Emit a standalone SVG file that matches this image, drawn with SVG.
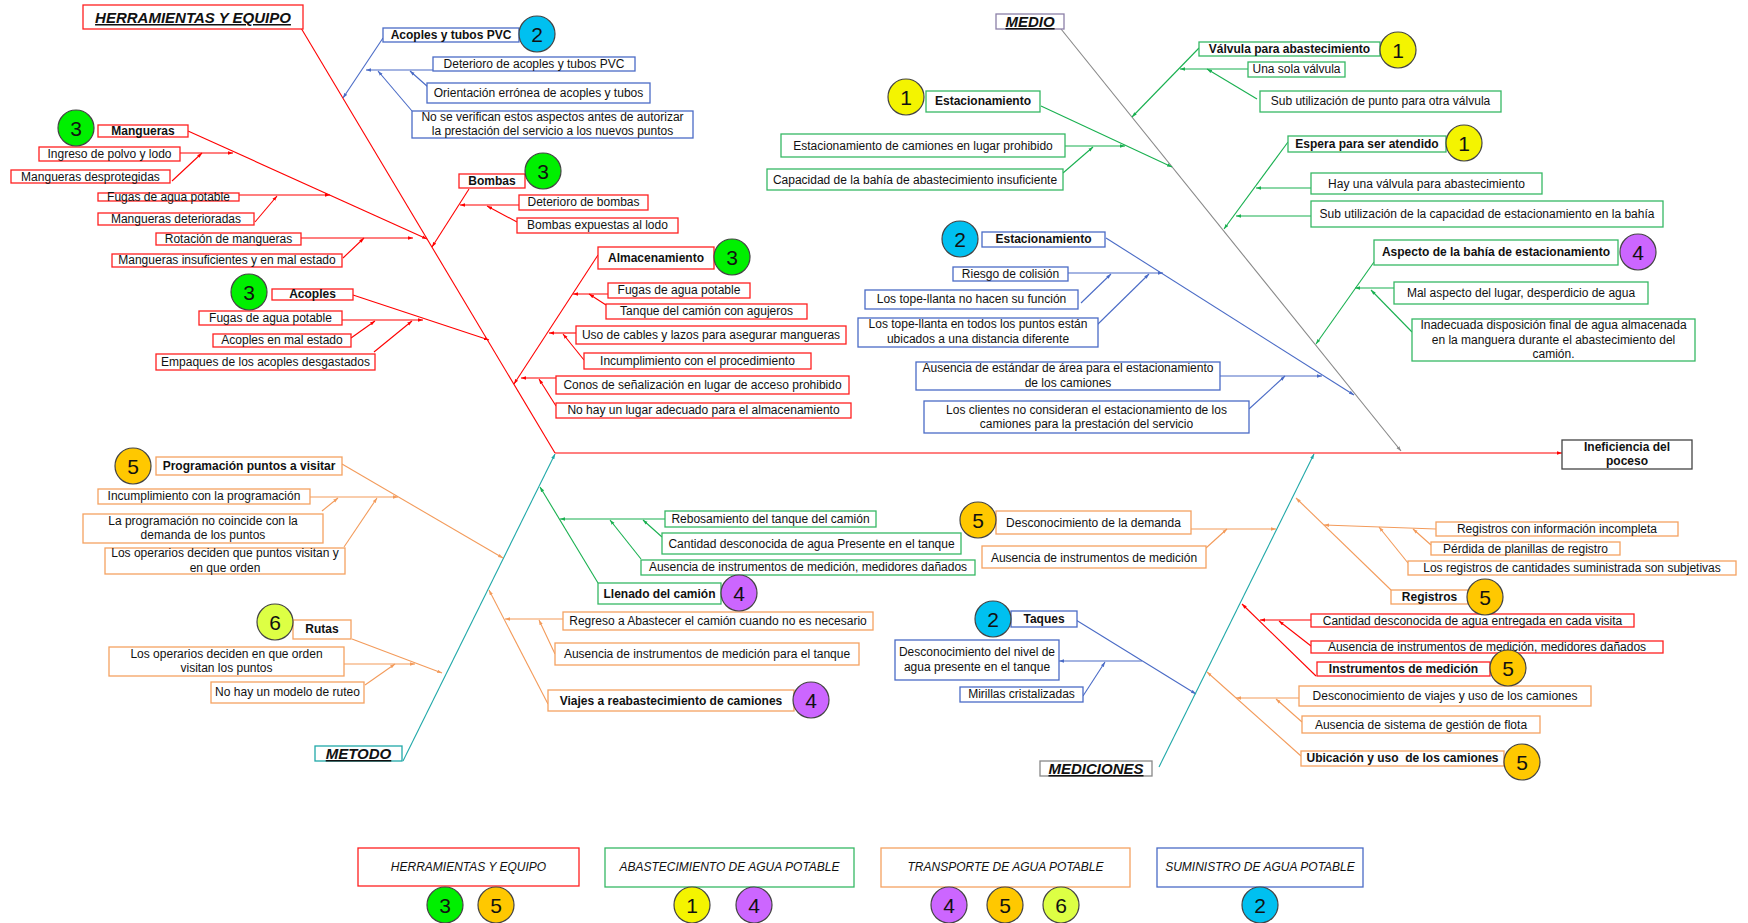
<svg xmlns="http://www.w3.org/2000/svg" width="1748" height="923" viewBox="0 0 1748 923">
<style>
text{font-family:"Liberation Sans",Arial,sans-serif;font-size:12px;fill:#111;text-anchor:middle}
.b{font-weight:bold}
.cat{font-size:15px;font-weight:bold;font-style:italic;text-decoration:underline}
.leg{font-style:italic}
.num{font-size:21px;font-weight:normal}
rect{fill:#fff;stroke-width:1.3}
.rr{stroke:#FF1F1F}.rg{stroke:#36B865}.rb{stroke:#4A6BC6}.ro{stroke:#F4A261}
.rt{stroke:#20A8A8}.rp{stroke:#8C80A8}.rk{stroke:#888}.rd{stroke:#444}
circle{stroke:#444;stroke-width:1.2}
.c1{fill:#F4F400}.c2{fill:#00C0F0}.c3{fill:#00F000}.c4{fill:#CC66FF}.c5{fill:#FFC800}.c6{fill:#DDFF44}
#connectors path{fill:none;stroke-width:1.1}
.lr{stroke:#FF0000}.lg{stroke:#19B050}.lb{stroke:#4A6BC6}.lo{stroke:#F39B5B}.lt{stroke:#20A8A8}.lk{stroke:#888}
</style>
<defs>
<marker id="ar" markerUnits="userSpaceOnUse" markerWidth="5" markerHeight="4" refX="5" refY="2" orient="auto"><path d="M0,0.3 L5,2 L0,3.7 z" fill="#FF0000"/></marker>
<marker id="ag" markerUnits="userSpaceOnUse" markerWidth="5" markerHeight="4" refX="5" refY="2" orient="auto"><path d="M0,0.3 L5,2 L0,3.7 z" fill="#19B050"/></marker>
<marker id="ab" markerUnits="userSpaceOnUse" markerWidth="5" markerHeight="4" refX="5" refY="2" orient="auto"><path d="M0,0.3 L5,2 L0,3.7 z" fill="#4A6BC6"/></marker>
<marker id="ao" markerUnits="userSpaceOnUse" markerWidth="5" markerHeight="4" refX="5" refY="2" orient="auto"><path d="M0,0.3 L5,2 L0,3.7 z" fill="#F39B5B"/></marker>
<marker id="at" markerUnits="userSpaceOnUse" markerWidth="5" markerHeight="4" refX="5" refY="2" orient="auto"><path d="M0,0.3 L5,2 L0,3.7 z" fill="#20A8A8"/></marker>
<marker id="ak" markerUnits="userSpaceOnUse" markerWidth="5" markerHeight="4" refX="5" refY="2" orient="auto"><path d="M0,0.3 L5,2 L0,3.7 z" fill="#888"/></marker>
</defs>
<rect x="0" y="0" width="1748" height="923" style="fill:#fff;stroke:none"/>

<g id="connectors">
<path class="lr" d="M555,453 H1562" marker-end="url(#ar)"/>
<path class="lr" d="M301,28 L555,453"/>
<path class="lr" d="M188,131 L427,239" marker-end="url(#ar)"/>
<path class="lr" d="M180,153 L233,153" marker-end="url(#ar)"/>
<path class="lr" d="M172,181 L202,153" marker-end="url(#ar)"/>
<path class="lr" d="M239,195 L330,195" marker-end="url(#ar)"/>
<path class="lr" d="M255,222 L277,196" marker-end="url(#ar)"/>
<path class="lr" d="M301,238 L413,238" marker-end="url(#ar)"/>
<path class="lr" d="M343,258 L364,238" marker-end="url(#ar)"/>
<path class="lr" d="M469,189 L432,247" marker-end="url(#ar)"/>
<path class="lr" d="M519,205 L460,205" marker-end="url(#ar)"/>
<path class="lr" d="M517,222 L487,206" marker-end="url(#ar)"/>
<path class="lr" d="M353,295 L489,340" marker-end="url(#ar)"/>
<path class="lr" d="M342,320 L423,320" marker-end="url(#ar)"/>
<path class="lr" d="M351,338 L375,321" marker-end="url(#ar)"/>
<path class="lr" d="M374,352 L412,321" marker-end="url(#ar)"/>
<path class="lr" d="M598,255 L514,384" marker-end="url(#ar)"/>
<path class="lr" d="M608,294 L573,294" marker-end="url(#ar)"/>
<path class="lr" d="M606,305 L589,294" marker-end="url(#ar)"/>
<path class="lr" d="M576,333 L549,333" marker-end="url(#ar)"/>
<path class="lr" d="M584,360 L563,334" marker-end="url(#ar)"/>
<path class="lr" d="M556,378 L521,378" marker-end="url(#ar)"/>
<path class="lr" d="M556,406 L539,379" marker-end="url(#ar)"/>
<path class="lr" d="M1316,676 L1242,604" marker-end="url(#ar)"/>
<path class="lr" d="M1311,620 L1260,620" marker-end="url(#ar)"/>
<path class="lr" d="M1311,646 L1279,621" marker-end="url(#ar)"/>

<path class="lk" d="M1061,29 L1401,451" marker-end="url(#ak)"/>

<path class="lg" d="M1199,48 L1132,117" marker-end="url(#ag)"/>
<path class="lg" d="M1248,69 L1180,69" marker-end="url(#ag)"/>
<path class="lg" d="M1257,99 L1207,69" marker-end="url(#ag)"/>
<path class="lg" d="M1041,106 L1172,167" marker-end="url(#ag)"/>
<path class="lg" d="M1065,146 L1125,146" marker-end="url(#ag)"/>
<path class="lg" d="M1063,173 L1093,147" marker-end="url(#ag)"/>
<path class="lg" d="M1288,142 L1224,229" marker-end="url(#ag)"/>
<path class="lg" d="M1311,188 L1256,188" marker-end="url(#ag)"/>
<path class="lg" d="M1311,216 L1236,216" marker-end="url(#ag)"/>
<path class="lg" d="M1374,262 L1316,344" marker-end="url(#ag)"/>
<path class="lg" d="M1394,288 L1355,288" marker-end="url(#ag)"/>
<path class="lg" d="M1412,332 L1371,290" marker-end="url(#ag)"/>
<path class="lg" d="M598,583 L540,487" marker-end="url(#ag)"/>
<path class="lg" d="M665,519 L560,519" marker-end="url(#ag)"/>
<path class="lg" d="M662,537 L643,520" marker-end="url(#ag)"/>
<path class="lg" d="M641,559 L610,520" marker-end="url(#ag)"/>

<path class="lb" d="M383,38 L343,98" marker-end="url(#ab)"/>
<path class="lb" d="M433,70 L366,70" marker-end="url(#ab)"/>
<path class="lb" d="M428,87 L410,71" marker-end="url(#ab)"/>
<path class="lb" d="M412,111 L378,71" marker-end="url(#ab)"/>
<path class="lb" d="M1106,238 L1354,395" marker-end="url(#ab)"/>
<path class="lb" d="M1068,273 L1163,273" marker-end="url(#ab)"/>
<path class="lb" d="M1081,303 L1111,274" marker-end="url(#ab)"/>
<path class="lb" d="M1097,325 L1149,274" marker-end="url(#ab)"/>
<path class="lb" d="M1220,376 L1322,376" marker-end="url(#ab)"/>
<path class="lb" d="M1249,409 L1285,376" marker-end="url(#ab)"/>
<path class="lb" d="M1076,620 L1196,694" marker-end="url(#ab)"/>
<path class="lb" d="M1142,661 L1059,661" marker-end="url(#ab)"/>
<path class="lb" d="M1083,696 L1105,662" marker-end="url(#ab)"/>

<path class="lt" d="M403,761 L555,454" marker-end="url(#at)"/>
<path class="lt" d="M1159,767 L1314,454" marker-end="url(#at)"/>

<path class="lo" d="M342,464 L503,558" marker-end="url(#ao)"/>
<path class="lo" d="M310,497 L398,497" marker-end="url(#ao)"/>
<path class="lo" d="M322,511 L338,498" marker-end="url(#ao)"/>
<path class="lo" d="M344,547 L377,498" marker-end="url(#ao)"/>
<path class="lo" d="M352,639 L442,673" marker-end="url(#ao)"/>
<path class="lo" d="M344,664 L415,664" marker-end="url(#ao)"/>
<path class="lo" d="M365,685 L395,664" marker-end="url(#ao)"/>
<path class="lo" d="M548,704 L489,590" marker-end="url(#ao)"/>
<path class="lo" d="M563,619 L505,619" marker-end="url(#ao)"/>
<path class="lo" d="M555,654 L539,620" marker-end="url(#ao)"/>
<path class="lo" d="M1191,529 L1276,529" marker-end="url(#ao)"/>
<path class="lo" d="M1206,548 L1227,529" marker-end="url(#ao)"/>
<path class="lo" d="M1391,590 L1296,498" marker-end="url(#ao)"/>
<path class="lo" d="M1436,529 L1324,525" marker-end="url(#ao)"/>
<path class="lo" d="M1431,545 L1413,529" marker-end="url(#ao)"/>
<path class="lo" d="M1408,563 L1379,527" marker-end="url(#ao)"/>
<path class="lo" d="M1301,756 L1207,672" marker-end="url(#ao)"/>
<path class="lo" d="M1299,698 L1236,698" marker-end="url(#ao)"/>
<path class="lo" d="M1302,722 L1276,699" marker-end="url(#ao)"/>
</g>

<!-- Category heads -->
<g id="cat-herramientas"><rect class="rr" x="83" y="5" width="220" height="24"/><text class="cat" x="193" y="23">HERRAMIENTAS Y EQUIPO</text></g>
<g id="cat-medio"><rect class="rp" x="996" y="14" width="68" height="15"/><text class="cat" x="1030" y="27">MEDIO</text></g>
<g id="cat-metodo"><rect class="rt" x="315" y="746" width="87" height="15"/><text class="cat" x="358.5" y="759">METODO</text></g>
<g id="cat-mediciones"><rect class="rk" x="1040" y="761" width="112" height="15"/><text class="cat" x="1096" y="774">MEDICIONES</text></g>
<g id="effect"><rect class="rd" x="1562" y="440" width="130" height="29"/><text class="b" x="1627" y="451">Ineficiencia del</text><text class="b" x="1627" y="465">poceso</text></g>

<!-- Red nodes -->
<g id="n-mangueras"><rect class="rr" x="98" y="125" width="90" height="12"/><text class="b" x="143" y="135">Mangueras</text></g>
<g id="n-ingreso"><rect class="rr" x="39" y="147" width="141" height="14"/><text x="109.5" y="158">Ingreso de polvo y lodo</text></g>
<g id="n-desprotegidas"><rect class="rr" x="11" y="170" width="159" height="13"/><text x="90.5" y="181">Mangueras desprotegidas</text></g>
<g id="n-fugas1"><rect class="rr" x="98" y="193" width="141" height="8"/><text x="168.5" y="201">Fugas de agua potable</text></g>
<g id="n-deterioradas"><rect class="rr" x="98" y="213" width="156" height="12"/><text x="176" y="223">Mangueras deterioradas</text></g>
<g id="n-rotacion"><rect class="rr" x="156" y="233" width="145" height="12"/><text x="228.5" y="243">Rotación de mangueras</text></g>
<g id="n-insuficientes"><rect class="rr" x="112" y="254" width="230" height="13"/><text x="227" y="264">Mangueras insuficientes y en mal estado</text></g>
<g id="n-acoples"><rect class="rr" x="272" y="289" width="81" height="11"/><text class="b" x="312.5" y="298">Acoples</text></g>
<g id="n-fugas2"><rect class="rr" x="199" y="311" width="143" height="14"/><text x="270.5" y="322">Fugas de agua potable</text></g>
<g id="n-malestado"><rect class="rr" x="213" y="334" width="138" height="13"/><text x="282" y="344">Acoples en mal estado</text></g>
<g id="n-empaques"><rect class="rr" x="156" y="354" width="219" height="16"/><text x="265.5" y="366">Empaques de los acoples desgastados</text></g>
<g id="n-bombas"><rect class="rr" x="459" y="174" width="66" height="14"/><text class="b" x="492" y="185">Bombas</text></g>
<g id="n-detbombas"><rect class="rr" x="519" y="195" width="129" height="15"/><text x="583.5" y="206">Deterioro de bombas</text></g>
<g id="n-expuestas"><rect class="rr" x="517" y="218" width="161" height="15"/><text x="597.5" y="229">Bombas expuestas al lodo</text></g>
<g id="n-almacenamiento"><rect class="rr" x="598" y="247" width="116" height="22"/><text class="b" x="656" y="262">Almacenamiento</text></g>
<g id="n-fugas3"><rect class="rr" x="608" y="283" width="142" height="15"/><text x="679" y="294">Fugas de agua potable</text></g>
<g id="n-tanque"><rect class="rr" x="606" y="304" width="201" height="15"/><text x="706.5" y="315">Tanque del camión con agujeros</text></g>
<g id="n-cables"><rect class="rr" x="576" y="326" width="270" height="18"/><text x="711" y="339">Uso de cables y lazos para asegurar mangueras</text></g>
<g id="n-incproc"><rect class="rr" x="584" y="353" width="227" height="16"/><text x="697.5" y="365">Incumplimiento con el procedimiento</text></g>
<g id="n-conos"><rect class="rr" x="556" y="376" width="293" height="18"/><text x="702.5" y="389">Conos de señalización en lugar de acceso prohibido</text></g>
<g id="n-nohay"><rect class="rr" x="556" y="403" width="295" height="15"/><text x="703.5" y="414">No hay un lugar adecuado para el almacenamiento</text></g>
<g id="n-instrumentos"><rect class="rr" x="1317" y="662" width="173" height="14"/><text class="b" x="1403.5" y="673">Instrumentos de medición</text></g>
<g id="n-cantentregada"><rect class="rr" x="1311" y="614" width="323" height="13"/><text x="1472.5" y="625">Cantidad desconocida de agua entregada en cada visita</text></g>
<g id="n-ausred"><rect class="rr" x="1311" y="641" width="352" height="12"/><text x="1487" y="651">Ausencia de instrumentos de medición, medidores dañados</text></g>

<!-- Blue nodes -->
<g id="n-acoplespvc"><rect class="rb" x="383" y="28" width="136" height="14"/><text class="b" x="451" y="39">Acoples y tubos PVC</text></g>
<g id="n-detacoples"><rect class="rb" x="433" y="57" width="202" height="14"/><text x="534" y="68">Deterioro de acoples y tubos PVC</text></g>
<g id="n-orientacion"><rect class="rb" x="427" y="83" width="223" height="20"/><text x="538.5" y="97">Orientación errónea de acoples y tubos</text></g>
<g id="n-noverifican"><rect class="rb" x="412" y="111" width="281" height="27"/><text x="552.5" y="121">No se verifican estos aspectos antes de autorizar</text><text x="552.5" y="135">la prestación del servicio a los nuevos puntos</text></g>
<g id="n-estblue"><rect class="rb" x="982" y="232" width="123" height="15"/><text class="b" x="1043.5" y="243">Estacionamiento</text></g>
<g id="n-riesgo"><rect class="rb" x="953" y="267" width="115" height="14"/><text x="1010.5" y="278">Riesgo de colisión</text></g>
<g id="n-topeno"><rect class="rb" x="865" y="290" width="213" height="19"/><text x="971.5" y="303">Los tope-llanta no hacen su función</text></g>
<g id="n-topetodos"><rect class="rb" x="858" y="318" width="240" height="29"/><text x="978" y="328">Los tope-llanta en todos los puntos están</text><text x="978" y="343">ubicados a una distancia diferente</text></g>
<g id="n-estandar"><rect class="rb" x="916" y="362" width="304" height="28"/><text x="1068" y="372">Ausencia de estándar de área para el estacionamiento</text><text x="1068" y="387">de los camiones</text></g>
<g id="n-clientes"><rect class="rb" x="924" y="401" width="325" height="32"/><text x="1086.5" y="414">Los clientes no consideran el estacionamiento de los</text><text x="1086.5" y="428">camiones para la prestación del servicio</text></g>
<g id="n-taques"><rect class="rb" x="1011" y="611" width="66" height="16"/><text class="b" x="1044" y="623">Taques</text></g>
<g id="n-nivel"><rect class="rb" x="895" y="640" width="164" height="40"/><text x="977" y="656">Desconocimiento del nivel de</text><text x="977" y="671">agua presente en el tanque</text></g>
<g id="n-mirillas"><rect class="rb" x="960" y="687" width="123" height="15"/><text x="1021.5" y="698">Mirillas cristalizadas</text></g>

<!-- Green nodes -->
<g id="n-valvula"><rect class="rg" x="1199" y="42" width="181" height="14"/><text class="b" x="1289.5" y="53">Válvula para abastecimiento</text></g>
<g id="n-unasola"><rect class="rg" x="1248" y="62" width="97" height="15"/><text x="1296.5" y="73">Una sola válvula</text></g>
<g id="n-subpunto"><rect class="rg" x="1260" y="91" width="241" height="21"/><text x="1380.5" y="105">Sub utilización de punto para otra válvula</text></g>
<g id="n-estgreen"><rect class="rg" x="926" y="91" width="114" height="21"/><text class="b" x="983" y="105">Estacionamiento</text></g>
<g id="n-prohibido"><rect class="rg" x="781" y="134" width="284" height="23"/><text x="923" y="150">Estacionamiento de camiones en lugar prohibido</text></g>
<g id="n-capacidad"><rect class="rg" x="767" y="169" width="296" height="21"/><text x="915" y="184">Capacidad de la bahía de abastecimiento insuficiente</text></g>
<g id="n-espera"><rect class="rg" x="1288" y="136" width="158" height="16"/><text class="b" x="1367" y="148">Espera para ser atendido</text></g>
<g id="n-hayuna"><rect class="rg" x="1311" y="173" width="231" height="21"/><text x="1426.5" y="188">Hay una válvula para abastecimiento</text></g>
<g id="n-subcapacidad"><rect class="rg" x="1311" y="201" width="352" height="26"/><text x="1487" y="218">Sub utilización de la capacidad de estacionamiento en la bahía</text></g>
<g id="n-aspecto"><rect class="rg" x="1374" y="240" width="244" height="25"/><text class="b" x="1496" y="256">Aspecto de la bahía de estacionamiento</text></g>
<g id="n-malaspecto"><rect class="rg" x="1394" y="282" width="254" height="22"/><text x="1521" y="297">Mal aspecto del lugar, desperdicio de agua</text></g>
<g id="n-inadecuada"><rect class="rg" x="1412" y="319" width="283" height="42"/><text x="1553.5" y="329">Inadecuada disposición final de agua almacenada</text><text x="1553.5" y="344">en la manguera durante el abastecimiento del</text><text x="1553.5" y="358">camión.</text></g>
<g id="n-rebosamiento"><rect class="rg" x="665" y="511" width="211" height="16"/><text x="770.5" y="523">Rebosamiento del tanque del camión</text></g>
<g id="n-cantpresente"><rect class="rg" x="662" y="533" width="299" height="21"/><text x="811.5" y="548">Cantidad desconocida de agua Presente en el tanque</text></g>
<g id="n-ausgreen"><rect class="rg" x="641" y="560" width="334" height="15"/><text x="808" y="571">Ausencia de instrumentos de medición, medidores dañados</text></g>
<g id="n-llenado"><rect class="rg" x="598" y="583" width="123" height="21"/><text class="b" x="659.5" y="598">Llenado del camión</text></g>

<!-- Orange nodes -->
<g id="n-programacion"><rect class="ro" x="156" y="457" width="186" height="18"/><text class="b" x="249" y="470">Programación puntos a visitar</text></g>
<g id="n-incprog"><rect class="ro" x="98" y="489" width="212" height="15"/><text x="204" y="500">Incumplimiento con la programación</text></g>
<g id="n-nocoincide"><rect class="ro" x="83" y="514" width="240" height="29"/><text x="203" y="525">La programación no coincide con la</text><text x="203" y="539">demanda de los puntos</text></g>
<g id="n-operarios1"><rect class="ro" x="105" y="548" width="240" height="26"/><text x="225" y="557">Los operarios deciden que puntos visitan y</text><text x="225" y="572">en que orden</text></g>
<g id="n-rutas"><rect class="ro" x="293" y="620" width="58" height="19"/><text class="b" x="322" y="633">Rutas</text></g>
<g id="n-operarios2"><rect class="ro" x="109" y="647" width="235" height="29"/><text x="226.5" y="658">Los operarios deciden en que orden</text><text x="226.5" y="672">visitan los puntos</text></g>
<g id="n-modelo"><rect class="ro" x="211" y="682" width="153" height="21"/><text x="287.5" y="696">No hay un modelo de ruteo</text></g>
<g id="n-regreso"><rect class="ro" x="563" y="612" width="310" height="18"/><text x="718" y="625">Regreso a Abastecer el camión cuando no es necesario</text></g>
<g id="n-austanque"><rect class="ro" x="555" y="643" width="304" height="22"/><text x="707" y="658">Ausencia de instrumentos de medición para el tanque</text></g>
<g id="n-viajes"><rect class="ro" x="548" y="690" width="246" height="21"/><text class="b" x="671" y="705">Viajes a reabastecimiento de camiones</text></g>
<g id="n-demanda"><rect class="ro" x="996" y="511" width="195" height="23"/><text x="1093.5" y="527">Desconocimiento de la demanda</text></g>
<g id="n-ausmedicion"><rect class="ro" x="982" y="546" width="224" height="22"/><text x="1094" y="562">Ausencia de instrumentos de medición</text></g>
<g id="n-reginfo"><rect class="ro" x="1436" y="522" width="242" height="14"/><text x="1557" y="533">Registros con información incompleta</text></g>
<g id="n-perdida"><rect class="ro" x="1431" y="542" width="189" height="13"/><text x="1525.5" y="553">Pérdida de planillas de registro</text></g>
<g id="n-subjetivas"><rect class="ro" x="1408" y="561" width="328" height="14"/><text x="1572" y="572">Los registros de cantidades suministrada son subjetivas</text></g>
<g id="n-registros"><rect class="ro" x="1391" y="590" width="77" height="14"/><text class="b" x="1429.5" y="601">Registros</text></g>
<g id="n-viajesuso"><rect class="ro" x="1299" y="686" width="292" height="20"/><text x="1445" y="700">Desconocimiento de viajes y uso de los camiones</text></g>
<g id="n-flota"><rect class="ro" x="1302" y="716" width="238" height="17"/><text x="1421" y="729">Ausencia de sistema de gestión de flota</text></g>
<g id="n-ubicacion"><rect class="ro" x="1301" y="751" width="203" height="15"/><text class="b" x="1402.5" y="762" style="white-space:pre">Ubicación y uso  de los camiones</text></g>

<!-- Number badges -->
<g id="badges">
<circle class="c2" cx="537" cy="34" r="18"/><text class="num" x="537" y="41.5">2</text>
<circle class="c3" cx="76" cy="128" r="18"/><text class="num" x="76" y="135.5">3</text>
<circle class="c3" cx="249" cy="292" r="18"/><text class="num" x="249" y="299.5">3</text>
<circle class="c3" cx="543" cy="171" r="18"/><text class="num" x="543" y="178.5">3</text>
<circle class="c3" cx="732" cy="257" r="18"/><text class="num" x="732" y="264.5">3</text>
<circle class="c1" cx="906" cy="97" r="18"/><text class="num" x="906" y="104.5">1</text>
<circle class="c1" cx="1398" cy="50" r="18"/><text class="num" x="1398" y="57.5">1</text>
<circle class="c1" cx="1464" cy="143" r="18"/><text class="num" x="1464" y="150.5">1</text>
<circle class="c2" cx="960" cy="239" r="18"/><text class="num" x="960" y="246.5">2</text>
<circle class="c4" cx="1638" cy="252" r="18"/><text class="num" x="1638" y="259.5">4</text>
<circle class="c5" cx="133" cy="466" r="18"/><text class="num" x="133" y="473.5">5</text>
<circle class="c6" cx="275" cy="622" r="18"/><text class="num" x="275" y="629.5">6</text>
<circle class="c4" cx="739" cy="593" r="18"/><text class="num" x="739" y="600.5">4</text>
<circle class="c4" cx="811" cy="700" r="18"/><text class="num" x="811" y="707.5">4</text>
<circle class="c5" cx="978" cy="520" r="18"/><text class="num" x="978" y="527.5">5</text>
<circle class="c2" cx="993" cy="619" r="18"/><text class="num" x="993" y="626.5">2</text>
<circle class="c5" cx="1485" cy="597" r="18"/><text class="num" x="1485" y="604.5">5</text>
<circle class="c5" cx="1508" cy="668" r="18"/><text class="num" x="1508" y="675.5">5</text>
<circle class="c5" cx="1522" cy="762" r="18"/><text class="num" x="1522" y="769.5">5</text>
</g>

<!-- Legend -->
<g id="legend-herramientas"><rect class="rr" x="358" y="848" width="221" height="38"/><text class="leg" x="468.5" y="871">HERRAMIENTAS Y EQUIPO</text>
<circle class="c3" cx="445" cy="905" r="18"/><text class="num" x="445" y="912.5">3</text>
<circle class="c5" cx="496" cy="905" r="18"/><text class="num" x="496" y="912.5">5</text></g>
<g id="legend-abastecimiento"><rect class="rg" x="605" y="848" width="249" height="39"/><text class="leg" x="729.5" y="871">ABASTECIMIENTO DE AGUA POTABLE</text>
<circle class="c1" cx="692" cy="905" r="18"/><text class="num" x="692" y="912.5">1</text>
<circle class="c4" cx="754" cy="905" r="18"/><text class="num" x="754" y="912.5">4</text></g>
<g id="legend-transporte"><rect class="ro" x="881" y="848" width="249" height="39"/><text class="leg" x="1005.5" y="871">TRANSPORTE DE AGUA POTABLE</text>
<circle class="c4" cx="949" cy="905" r="18"/><text class="num" x="949" y="912.5">4</text>
<circle class="c5" cx="1005" cy="905" r="18"/><text class="num" x="1005" y="912.5">5</text>
<circle class="c6" cx="1061" cy="905" r="18"/><text class="num" x="1061" y="912.5">6</text></g>
<g id="legend-suministro"><rect class="rb" x="1157" y="848" width="206" height="39"/><text class="leg" x="1260" y="871">SUMINISTRO DE AGUA POTABLE</text>
<circle class="c2" cx="1260" cy="905" r="18"/><text class="num" x="1260" y="912.5">2</text></g>
</svg>
